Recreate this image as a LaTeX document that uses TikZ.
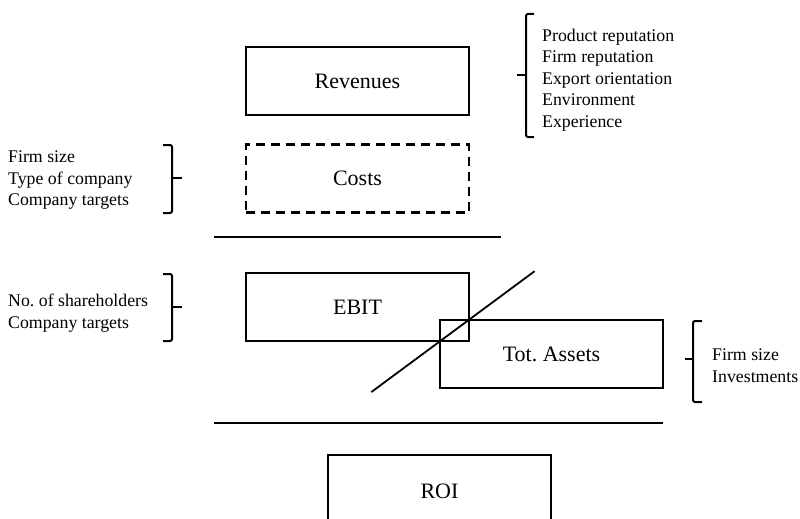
\documentclass[tikz,border=0pt]{standalone}
\usepackage{fontspec}
\setmainfont{Liberation Serif}
\frenchspacing
\usetikzlibrary{positioning, calc}

\tikzset{
  block/.style={draw, line width=1.8pt, minimum width=223pt, minimum height=68pt, inner sep=0pt,
                font=\fontsize{22}{26}\selectfont},
  factors/.style={align=left, anchor=north west, inner sep=0pt,
                  font=\fontsize{17.8}{21.4}\selectfont},
  bracket/.style={line width=2pt, rounded corners=2pt},
  rule/.style={line width=1.8pt}
}

\begin{document}
\begin{tikzpicture}[x=1pt, y=-1pt]
    \path[use as bounding box, clip] (0, 0) rectangle (800, 519);

    % Revenues
    \node[block] (rev) at (357.5, 81) {Revenues};
    \node[factors] (revf) at (542, 29) {Product reputation\\Firm reputation\\Export orientation\\Environment\\Experience};
    \draw[bracket] (534, 14) -- (526, 14) -- (526, 137) -- (534, 137);
    \draw[bracket] (526, 75) -- (517, 75);

    % Costs
    \node[block, dashed, dash pattern=on 9pt off 6pt, line width=2.2pt] (cost) at (357.5, 178.5) {Costs};
    \node[factors] (costf) at (8, 151) {Firm size\\Type of company\\Company targets};
    \draw[bracket] (163, 145) -- (172, 145) -- (172, 213) -- (163, 213);
    \draw[bracket] (172, 178) -- (182, 178);

    % First fraction bar
    \draw[rule] (214, 237) -- (501, 237);

    % EBIT
    \node[block] (ebit) at (357.5, 307) {EBIT};
    \node[factors] (ebitf) at (8, 294) {No. of shareholders\\Company targets};
    \draw[bracket] (163, 274) -- (172, 274) -- (172, 341) -- (163, 341);
    \draw[bracket] (172, 307) -- (182, 307);

    % Tot. Assets
    \node[block] (assets) at (551.5, 354) {Tot. Assets};
    \node[factors] (assetsf) at (712, 349) {Firm size\\Investments};
    \draw[bracket] (702, 321) -- (693, 321) -- (693, 402) -- (702, 402);
    \draw[bracket] (693, 359) -- (685, 359);

    % Cross-out through the overlap
    \coordinate (lo) at (ebit.south -| assets.west);
    \coordinate (hi) at (ebit.east |- assets.north);
    \draw[rule] ($(lo)!-2.2!(hi)$) -- ($(lo)!3.1!(hi)$);

    % Second fraction bar
    \draw[rule] (214, 423) -- (663, 423);

    % ROI
    \node[block, minimum height=72pt] (roi) at (439.5, 491) {ROI};
\end{tikzpicture}
\end{document}
